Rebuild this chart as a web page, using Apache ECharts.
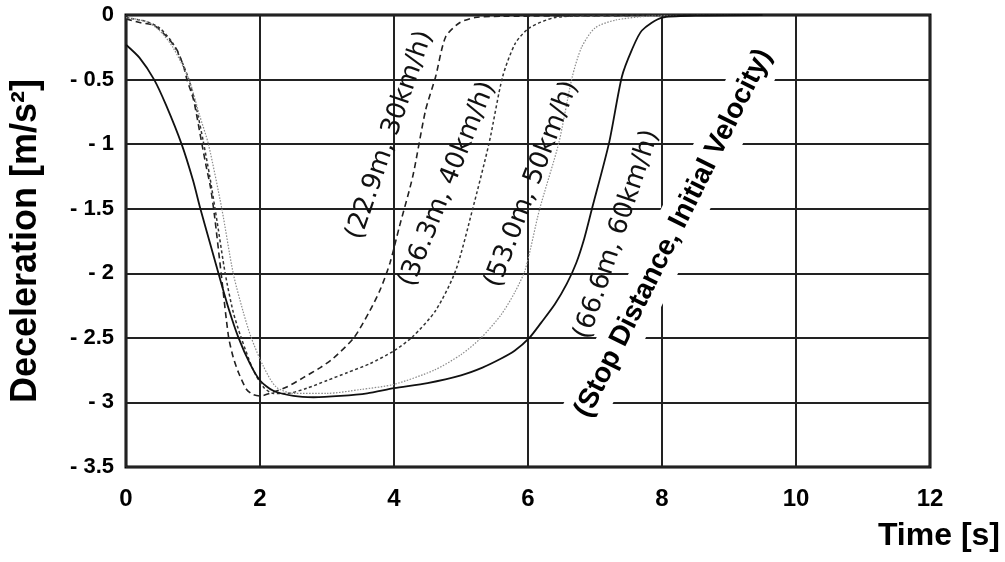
<!DOCTYPE html>
<html>
<head>
<meta charset="utf-8">
<script src="https://cdn.jsdelivr.net/npm/echarts@6/dist/echarts.min.js"></script>
<style>
  html, body { margin: 0; padding: 0; background: #fff; }
  #chart { width: 1005px; height: 562px; }
</style>
</head>
<body>
<div id="chart"></div>
<script>
// ---- data ----
const xTicks = [0, 2, 4, 6, 8, 10, 12];

const t30 = [0, 0.22, 0.42, 0.61, 0.76, 0.86, 0.91, 1.01, 1.13, 1.2, 1.26, 1.32, 1.42, 1.53, 1.6, 1.68, 1.8, 1.9, 2.0, 2.2, 2.4, 2.64, 2.9, 3.09, 3.4, 3.64, 3.8, 3.94, 4.08, 4.28, 4.47, 4.62, 4.77, 4.98, 5.21, 5.6, 9.5];
const a30 = [-0.03, -0.06, -0.08, -0.17, -0.27, -0.4, -0.5, -0.66, -0.99, -1.18, -1.33, -1.55, -2.0, -2.49, -2.65, -2.77, -2.9, -2.94, -2.95, -2.92, -2.88, -2.81, -2.73, -2.66, -2.5, -2.29, -2.12, -1.92, -1.64, -1.25, -0.74, -0.48, -0.17, -0.06, -0.02, -0.01, 0];

const t40 = [0, 0.3, 0.5, 0.7, 0.85, 0.95, 1.05, 1.15, 1.25, 1.36, 1.48, 1.6, 1.72, 1.9, 2.05, 2.2, 2.4, 2.7, 3.0, 3.3, 3.64, 4.0, 4.28, 4.62, 4.92, 5.17, 5.42, 5.62, 5.81, 6.02, 6.4, 7.0, 9.5];
const a40 = [-0.02, -0.05, -0.1, -0.22, -0.38, -0.52, -0.72, -0.97, -1.25, -1.6, -2.0, -2.3, -2.5, -2.75, -2.88, -2.93, -2.93, -2.89, -2.83, -2.77, -2.7, -2.6, -2.49, -2.29, -1.98, -1.51, -0.99, -0.48, -0.22, -0.1, -0.02, -0.005, 0];

const t50 = [0, 0.3, 0.5, 0.7, 0.94, 1.1, 1.23, 1.43, 1.6, 1.75, 1.87, 2.05, 2.24, 2.5, 3.0, 3.5, 4.0, 4.6, 5.0, 5.3, 5.6, 5.8, 5.96, 6.17, 6.46, 6.66, 6.8, 7.0, 7.3, 7.8, 9.5];
const a50 = [-0.02, -0.05, -0.12, -0.25, -0.5, -0.78, -1.0, -1.5, -2.0, -2.3, -2.5, -2.72, -2.88, -2.93, -2.93, -2.9, -2.86, -2.75, -2.63, -2.5, -2.32, -2.15, -1.97, -1.51, -0.99, -0.48, -0.25, -0.1, -0.04, -0.01, 0];

const t60 = [0, 0.2, 0.42, 0.6, 0.83, 1.0, 1.11, 1.25, 1.38, 1.53, 1.68, 1.85, 2.0, 2.2, 2.5, 2.8, 3.2, 3.6, 4.0, 4.5, 5.0, 5.32, 5.6, 5.8, 6.02, 6.2, 6.4, 6.58, 6.72, 6.84, 6.95, 7.21, 7.4, 7.55, 7.7, 8.0, 8.5, 9.5];
const a60 = [-0.23, -0.33, -0.5, -0.7, -1.0, -1.28, -1.5, -1.76, -2.0, -2.27, -2.5, -2.7, -2.83, -2.91, -2.95, -2.96, -2.95, -2.93, -2.89, -2.85, -2.79, -2.73, -2.66, -2.6, -2.5, -2.38, -2.24, -2.08, -1.92, -1.73, -1.51, -0.99, -0.48, -0.27, -0.12, -0.02, -0.005, 0];

const curveLabels = ['(22.9m, 30km/h)', '(36.3m, 40km/h)', '(53.0m, 50km/h)', '(66.6m, 60km/h)'];
const curveLabelT = [3.94, 4.80, 6.06, 7.33];
const curveLabelA = [-0.93, -1.31, -1.31, -1.70];
const curveLabelAngle = [71, 68, 69, 71.5];

const noteText = '(Stop Distance, Initial Velocity)';
const noteT = 8.17;
const noteA = -1.69;
const noteAngle = 63.4;

// ---- build ----
function pairs(t, a) { return t.map((v, i) => [v, a[i]]); }

const chart = echarts.init(document.getElementById('chart'));

const lineBase = { type: 'line', showSymbol: false, symbol: 'none', smooth: 0.25, z: 3 };
const FONT = 'Liberation Sans, Arial, sans-serif';

const option = {
  backgroundColor: '#fff',
  animation: false,
  grid: { left: 122, right: 75, top: 15, bottom: 95, show: true, borderColor: '#000', borderWidth: 3, backgroundColor: 'transparent' },
  xAxis: {
    type: 'value', min: 0, max: 12, interval: 2,
    axisLine: { show: false }, axisTick: { show: false },
    splitLine: { show: true, lineStyle: { color: '#222', width: 2 } },
    axisLabel: { margin: 20, fontSize: 24, fontWeight: 'bold', color: '#000', fontFamily: FONT }
  },
  yAxis: {
    type: 'value', min: -3.5, max: 0, interval: 0.5,
    axisLine: { show: false }, axisTick: { show: false },
    splitLine: { show: true, lineStyle: { color: '#222', width: 2 } },
    axisLabel: {
      margin: 12, fontSize: 22, fontWeight: 'bold', color: '#000', fontFamily: FONT,
      formatter: v => v === 0 ? '0' : '- ' + Math.abs(v)
    },
    name: 'Deceleration [m/s²]', nameLocation: 'middle', nameRotate: 90, nameGap: 82,
    nameTextStyle: { fontSize: 36, fontWeight: 'bold', color: '#000', fontFamily: FONT }
  },
  graphic: [{
    type: 'text', right: 5, top: 520,
    style: { text: 'Time [s]', fontSize: 32, fontWeight: 'bold', fill: '#000', fontFamily: FONT }
  }],
  series: [
    Object.assign({}, lineBase, { name: '30km/h', data: pairs(t30, a30), lineStyle: { color: '#222', width: 1.6, type: [6, 4] } }),
    Object.assign({}, lineBase, { name: '40km/h', data: pairs(t40, a40), lineStyle: { color: '#333', width: 1.5, type: [3, 2.5] } }),
    Object.assign({}, lineBase, { name: '50km/h', data: pairs(t50, a50), lineStyle: { color: '#8a8a8a', width: 1.2, type: [1.5, 1.5] } }),
    Object.assign({}, lineBase, { name: '60km/h', data: pairs(t60, a60), lineStyle: { color: '#111', width: 1.8, type: 'solid' } }),
    {
      type: 'scatter', name: 'curve labels', symbolSize: 1, itemStyle: { color: 'rgba(0,0,0,0)', opacity: 1 }, z: 5, silent: true,
      data: curveLabels.map((s, i) => ({
        name: s, value: [curveLabelT[i], curveLabelA[i]],
        label: { rotate: curveLabelAngle[i] }
      })),
      label: {
        show: true, position: 'inside', formatter: '{b}', align: 'center', verticalAlign: 'middle',
        fontSize: 26, color: '#111', fontFamily: 'DejaVu Sans, sans-serif'
      }
    },
    {
      type: 'scatter', name: 'note', symbolSize: 1, itemStyle: { color: 'rgba(0,0,0,0)', opacity: 1 }, z: 8, silent: true,
      data: [{ name: noteText, value: [noteT, noteA] }],
      label: {
        show: true, position: 'inside', formatter: '{b}', align: 'center', verticalAlign: 'middle', rotate: noteAngle,
        fontSize: 28, fontWeight: 'bold', color: '#000', fontFamily: FONT,
        backgroundColor: '#fff', padding: [7, 2], lineHeight: 30
      }
    }
  ]
};
chart.setOption(option);
</script>
</body>
</html>
